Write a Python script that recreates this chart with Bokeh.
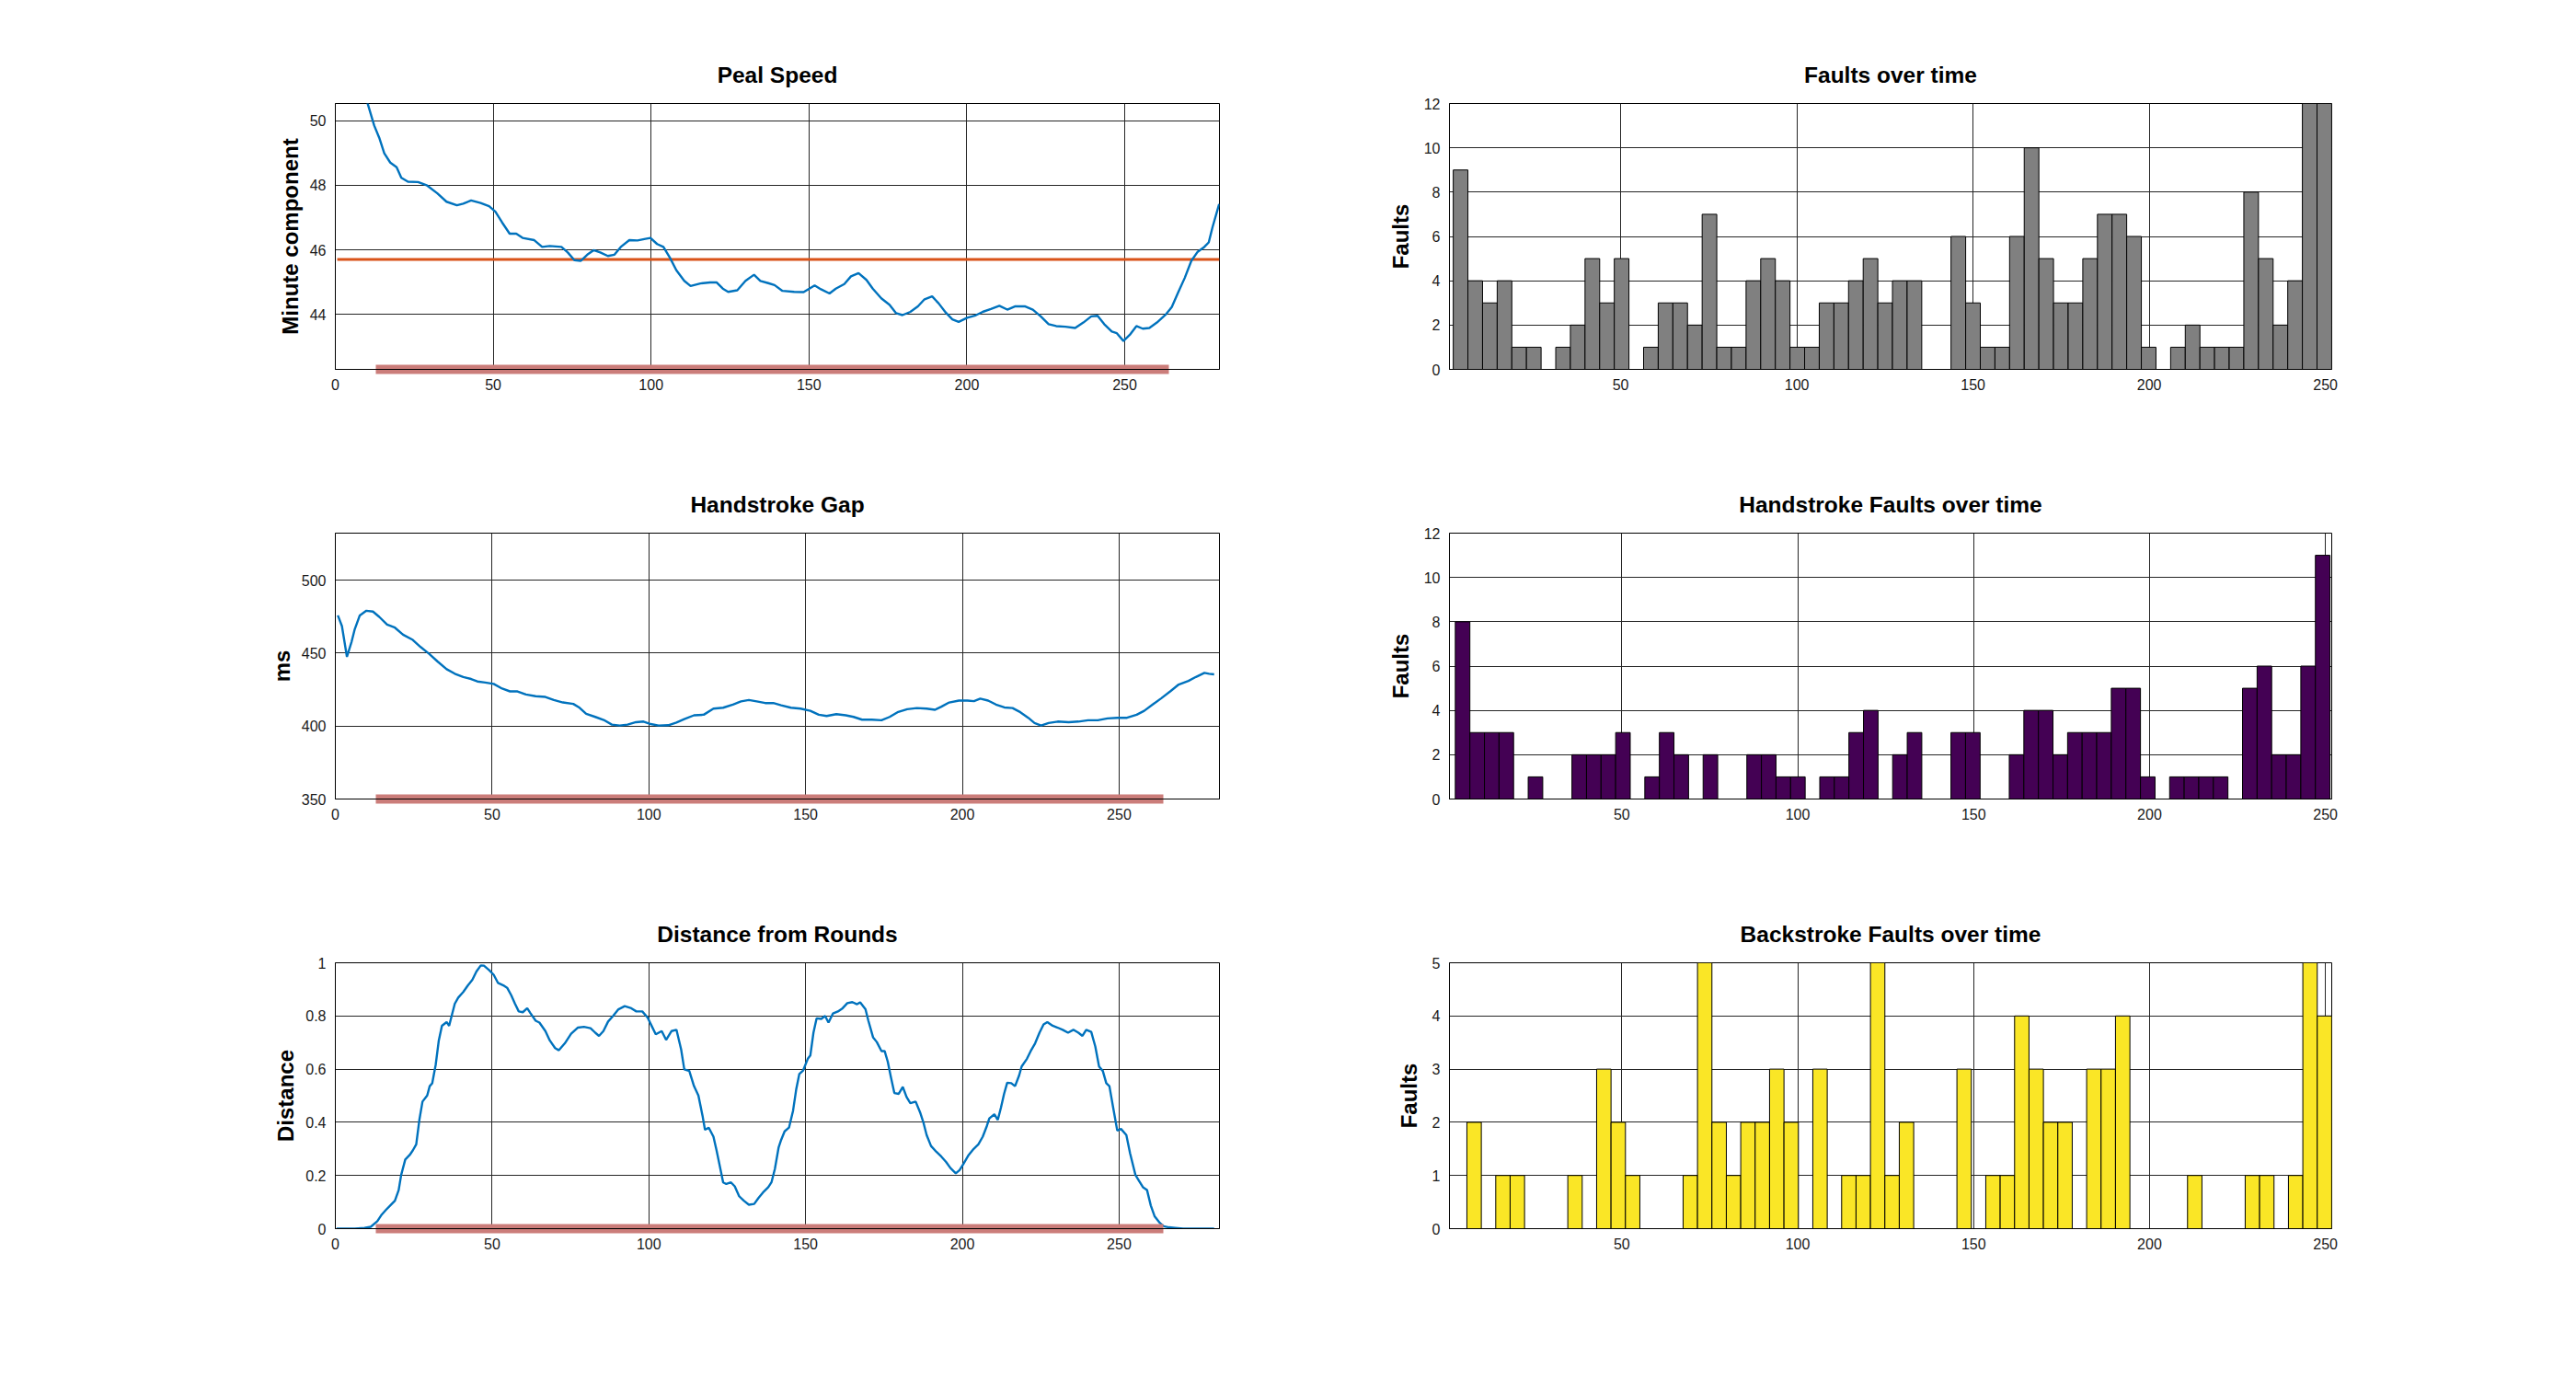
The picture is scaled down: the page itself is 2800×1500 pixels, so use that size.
from bokeh.plotting import figure
from bokeh.layouts import column, row
from bokeh.models import Range1d, LinearAxis, FixedTicker
from bokeh.embed import file_html
from bokeh.resources import INLINE

# ---------------- data ----------------
peal_x = [9.0, 10.2, 12.3, 13.9, 15.5, 17.4, 19.4, 20.9, 23.0, 26.2, 29.1, 32.3, 35.2, 38.5, 40.5,
          43.0, 46.0, 48.7, 50.7, 52.8, 55.2, 57.3, 59.3, 63.0, 65.5, 67.9, 71.6, 73.6, 75.7, 77.7,
          79.8, 81.8, 83.9, 86.3, 88.4, 90.4, 93.1, 95.7, 98.2, 99.8, 101.9, 103.9, 106.0, 108.0,
          110.5, 112.5, 115.6, 118.7, 120.8, 122.7, 124.4, 127.3, 129.9, 132.6, 134.6, 137.1, 139.1,
          141.6, 145.3, 148.3, 151.8, 153.8, 156.5, 158.5, 161.2, 163.3, 165.7, 168.2, 170.2, 172.9,
          175.5, 177.6, 179.6, 182.1, 184.5, 186.6, 189.0, 191.1, 193.3, 195.4, 197.4, 200.1, 202.5,
          205.0, 207.6, 210.3, 212.8, 215.2, 218.5, 220.9, 223.4, 225.9, 228.3, 231.2, 234.3, 236.9,
          239.4, 241.4, 243.5, 245.9, 247.5, 249.6, 251.6, 253.7, 255.7, 257.8, 260.2, 262.9, 264.9,
          267.0, 269.0, 271.1, 273.1, 275.2, 276.6, 277.8, 279.9]
peal_y = [50.9, 50.54, 49.85, 49.47, 48.99, 48.70, 48.56, 48.23, 48.11, 48.10, 47.99, 47.75, 47.49,
          47.38, 47.43, 47.53, 47.45, 47.35, 47.18, 46.85, 46.50, 46.50, 46.37, 46.30, 46.09, 46.12,
          46.09, 45.92, 45.68, 45.66, 45.85, 45.99, 45.92, 45.81, 45.85, 46.09, 46.30, 46.29, 46.34,
          46.37, 46.18, 46.09, 45.75, 45.37, 45.04, 44.88, 44.96, 44.99, 44.99, 44.80, 44.70, 44.75,
          45.04, 45.23, 45.04, 44.97, 44.91, 44.73, 44.70, 44.69, 44.90, 44.78, 44.65, 44.80, 44.94,
          45.18, 45.28, 45.07, 44.80, 44.50, 44.30, 44.04, 43.98, 44.08, 44.25, 44.47, 44.56, 44.34,
          44.06, 43.85, 43.77, 43.90, 43.96, 44.08, 44.17, 44.27, 44.15, 44.25, 44.25, 44.15, 43.94,
          43.70, 43.64, 43.62, 43.58, 43.75, 43.94, 43.96, 43.70, 43.47, 43.42, 43.18, 43.37, 43.64,
          43.56, 43.58, 43.75, 43.99, 44.23, 44.70, 45.13, 45.66, 45.94, 46.09, 46.23, 46.70, 47.42]
peal_mean = 45.7
peal_mean_x = [0.6, 280.0]

gap_x = [0.8, 2.1, 3.7, 5.2, 6.2, 7.8, 9.9, 12.0, 14.0, 16.5, 19.0, 21.6, 24.7, 27.2, 29.9, 32.6,
         35.5, 38.1, 40.8, 43.3, 45.3, 47.8, 50.5, 53.2, 55.7, 58.1, 60.8, 63.9, 67.0, 69.7, 72.6,
         75.9, 77.9, 80.0, 82.9, 85.6, 88.2, 90.7, 93.2, 95.9, 98.3, 100.6, 103.1, 106.2, 108.8,
         111.3, 114.4, 117.5, 120.6, 123.7, 126.8, 129.4, 131.9, 134.4, 137.1, 139.7, 142.2, 145.3,
         148.4, 151.5, 154.2, 156.7, 159.8, 162.8, 165.3, 168.0, 171.1, 174.2, 176.8, 179.3, 182.4,
         185.5, 188.6, 191.3, 193.3, 195.8, 198.9, 201.6, 203.7, 205.7, 208.2, 210.7, 213.4, 216.0,
         218.5, 221.0, 223.0, 225.1, 227.5, 230.4, 233.9, 237.0, 240.1, 243.2, 246.3, 249.4, 252.5,
         255.6, 258.0, 260.7, 263.4, 266.3, 269.0, 272.1, 274.5, 277.2, 278.7, 280.3]
gap_y = [475.9, 468.6, 447.5, 458.0, 466.5, 475.9, 479.1, 478.5, 474.9, 469.6, 467.5, 462.7, 459.1,
         454.2, 449.6, 444.3, 439.0, 435.9, 433.7, 432.3, 430.6, 429.9, 428.9, 425.7, 423.8, 423.8,
         421.7, 420.5, 420.0, 417.9, 416.2, 415.2, 412.6, 408.4, 406.3, 404.2, 401.0, 400.4, 401.0,
         402.7, 403.1, 401.4, 400.4, 400.6, 402.5, 404.8, 407.4, 407.8, 412.0, 412.6, 414.8, 416.9,
         417.9, 416.9, 415.8, 415.8, 414.3, 412.6, 412.0, 410.5, 407.8, 406.9, 408.2, 407.4, 406.3,
         404.4, 404.4, 404.0, 406.3, 409.5, 411.6, 412.4, 412.0, 411.2, 413.3, 416.2, 417.5, 417.5,
         417.1, 418.8, 417.5, 414.8, 412.8, 412.4, 409.5, 405.7, 402.1, 400.4, 402.1, 403.1, 402.7,
         403.1, 404.0, 404.0, 405.3, 405.7, 405.7, 407.8, 410.5, 414.8, 419.0, 423.8, 428.5, 431.0,
         433.7, 436.5, 435.9, 435.5]

dist_x = [0.4, 6.2, 9.3, 11.3, 13.4, 14.8, 16.1, 17.5, 19.0, 20.2, 21.0, 22.3, 23.7, 24.7, 25.8,
          26.8, 27.8, 29.3, 30.1, 30.9, 32.0, 33.0, 34.0, 35.5, 36.3, 37.1, 38.1, 39.2, 40.8, 42.3,
          43.7, 45.0, 46.4, 47.4, 49.1, 50.5, 51.9, 53.6, 54.8, 56.1, 57.3, 58.5, 59.8, 61.2, 62.2,
          63.9, 65.1, 67.0, 68.4, 70.1, 71.3, 73.2, 75.2, 77.3, 79.3, 81.4, 82.9, 84.1, 85.5, 87.0,
          88.6, 90.3, 92.3, 94.4, 96.0, 97.9, 99.6, 101.0, 102.2, 104.1, 105.5, 107.2, 108.8, 110.3,
          111.3, 112.9, 114.4, 115.8, 117.1, 117.9, 119.1, 120.6, 121.6, 122.6, 123.7, 124.7, 126.2,
          127.4, 128.8, 130.3, 131.9, 133.6, 135.0, 136.4, 138.1, 139.1, 140.2, 141.4, 142.2, 143.3,
          144.7, 146.0, 147.0, 148.0, 149.2, 150.7, 151.5, 152.5, 153.5, 155.0, 156.2, 157.3, 158.7,
          160.3, 161.8, 163.3, 164.9, 166.4, 167.4, 169.1, 170.0, 171.5, 172.7, 174.2, 175.2, 176.2,
          177.2, 178.3, 179.7, 181.0, 182.2, 183.4, 185.1, 186.5, 187.6, 188.6, 190.0, 191.7, 193.3,
          194.8, 196.2, 197.9, 199.1, 200.3, 202.0, 203.6, 205.1, 206.5, 207.8, 208.6, 210.2, 211.3,
          212.3, 213.3, 214.3, 215.6, 216.8, 218.1, 218.9, 220.6, 221.8, 223.2, 224.6, 225.9, 227.1,
          228.8, 230.4, 232.0, 233.7, 235.4, 237.0, 238.3, 239.5, 241.1, 242.4, 243.6, 244.8, 245.9,
          246.9, 248.1, 249.4, 250.6, 252.3, 253.5, 255.2, 256.4, 257.6, 258.9, 260.1, 261.3, 262.8,
          264.2, 265.9, 267.9, 270.4, 280.3]
dist_y = [0.0, 0.0, 0.003, 0.007, 0.028, 0.053, 0.070, 0.087, 0.105, 0.145, 0.202, 0.260, 0.277,
          0.294, 0.317, 0.409, 0.478, 0.501, 0.536, 0.547, 0.616, 0.708, 0.763, 0.777, 0.763, 0.800,
          0.846, 0.869, 0.890, 0.915, 0.936, 0.967, 0.990, 0.989, 0.972, 0.955, 0.924, 0.915, 0.906,
          0.878, 0.846, 0.817, 0.814, 0.829, 0.811, 0.782, 0.775, 0.743, 0.708, 0.679, 0.671, 0.697,
          0.733, 0.756, 0.759, 0.754, 0.737, 0.725, 0.743, 0.779, 0.800, 0.825, 0.837, 0.829, 0.817,
          0.817, 0.794, 0.760, 0.731, 0.743, 0.710, 0.743, 0.748, 0.674, 0.599, 0.593, 0.536, 0.501,
          0.426, 0.372, 0.380, 0.346, 0.294, 0.237, 0.174, 0.168, 0.174, 0.159, 0.122, 0.105, 0.090,
          0.093, 0.116, 0.136, 0.156, 0.174, 0.225, 0.306, 0.334, 0.366, 0.380, 0.444, 0.524, 0.582,
          0.595, 0.639, 0.651, 0.737, 0.791, 0.789, 0.800, 0.775, 0.809, 0.817, 0.829, 0.848, 0.852,
          0.844, 0.851, 0.825, 0.783, 0.720, 0.702, 0.668, 0.668, 0.628, 0.570, 0.510, 0.507, 0.533,
          0.495, 0.472, 0.478, 0.438, 0.398, 0.352, 0.311, 0.289, 0.271, 0.251, 0.228, 0.208, 0.220,
          0.243, 0.277, 0.300, 0.317, 0.346, 0.386, 0.415, 0.430, 0.409, 0.455, 0.507, 0.549, 0.547,
          0.536, 0.576, 0.610, 0.639, 0.668, 0.697, 0.737, 0.768, 0.777, 0.763, 0.756, 0.748, 0.737,
          0.748, 0.737, 0.725, 0.748, 0.740, 0.685, 0.610, 0.593, 0.547, 0.536, 0.455, 0.369, 0.375,
          0.352, 0.283, 0.202, 0.179, 0.156, 0.145, 0.087, 0.047, 0.024, 0.009, 0.005, 0.003, 0.0, 0.0]

rounds_span = [12.8, 264.0]   # x extent of the thick marker bar on the left-hand plots

faults = [9, 4, 3, 4, 1, 1, 0, 1, 2, 5, 3, 5, 0, 1, 3, 3, 2, 7, 1, 1,
          4, 5, 4, 1, 1, 3, 3, 4, 5, 3, 4, 4, 0, 0, 6, 3, 1, 1, 6, 10,
          5, 3, 3, 5, 7, 7, 6, 1, 0, 1, 2, 1, 1, 1, 8, 5, 2, 4, 12, 12]
faults_bin_start, faults_bin_width = 2.48, 4.155

hand_faults = [8, 3, 3, 3, 0, 1, 0, 0, 2, 2, 2, 3, 0, 1, 3, 2, 0, 2, 0, 0,
               2, 2, 1, 1, 0, 1, 1, 3, 4, 0, 2, 3, 0, 0, 3, 3, 0, 0, 2, 4,
               4, 2, 3, 3, 3, 5, 5, 1, 0, 1, 1, 1, 1, 0, 5, 6, 2, 2, 6, 11]
hand_bin_start, hand_bin_width = 2.66, 4.144

back_faults = [2, 0, 1, 1, 0, 0, 0, 1, 0, 3, 2, 1, 0, 0, 0, 1, 5, 2, 1, 2,
               2, 3, 2, 0, 3, 0, 1, 1, 5, 1, 2, 0, 0, 0, 3, 0, 1, 1, 4, 3,
               2, 2, 0, 3, 3, 4, 0, 0, 0, 0, 1, 0, 0, 0, 1, 1, 0, 1, 5, 4]
back_bin_start, back_bin_width = 5.96, 4.097

left_xticks = [0, 50, 100, 150, 200, 250]
right_xticks = [50, 100, 150, 200, 250]

# ---------------- styling helpers ----------------
FONT = "Liberation Sans"
BLUE = "#0072bd"
ORANGE = "#d95319"
PINK = "#cb7d7a"
GRID = "#262626"


def make_fig(title, ylabel, xr, yr, xticks, yticks, left_col):
    if left_col:
        w, bl, br, lab_std = 1400, 364, 75, 5
    else:
        w, bl, br, lab_std = 1384, 175, 250, 9
    p = figure(width=w, height=467, x_range=Range1d(*xr), y_range=Range1d(*yr),
               output_backend="svg", toolbar_location=None,
               min_border_left=bl, min_border_right=br, min_border_top=112, min_border_bottom=66,
               title=title)
    p.title.align = "center"
    p.title.text_font = FONT
    p.title.text_font_size = "24.5px"
    p.title.text_font_style = "bold"
    p.title.text_color = "black"
    p.title.standoff = 35
    for ax in (p.xaxis[0], p.yaxis[0]):
        ax.major_label_text_font = FONT
        ax.major_label_text_font_size = "16px"
        ax.major_label_text_color = "#1a1a1a"
        ax.major_tick_line_color = None
        ax.minor_tick_line_color = None
        ax.major_tick_in = 0
        ax.major_tick_out = 0
        ax.minor_tick_in = 0
        ax.minor_tick_out = 0
        ax.axis_line_color = "black"
        ax.axis_line_width = 1
        ax.major_label_standoff = 10
    p.xaxis.ticker = xticks
    p.yaxis.ticker = yticks
    p.yaxis.axis_label = ylabel
    p.yaxis.axis_label_text_font = FONT
    p.yaxis.axis_label_text_font_size = "24px"
    p.yaxis.axis_label_text_font_style = "bold"
    p.yaxis.axis_label_text_color = "black"
    p.yaxis.axis_label_standoff = lab_std
    for g in (p.xgrid[0], p.ygrid[0]):
        g.grid_line_color = GRID
        g.grid_line_alpha = 1
        g.grid_line_width = 1
    p.outline_line_color = "black"
    p.outline_line_alpha = 1
    p.outline_line_width = 1
    p.background_fill_color = "white"
    p.border_fill_color = "white"
    return p


def add_rounds_bar(p):
    # thick bar straddling the bottom edge of the axes, drawn as a bounded axis line
    bar = LinearAxis(ticker=FixedTicker(ticks=[]), bounds=(rounds_span[0], rounds_span[1]),
                     axis_line_color=PINK, axis_line_width=10, axis_line_cap="butt",
                     major_tick_line_color=None, minor_tick_line_color=None,
                     major_tick_in=0, major_tick_out=0, minor_tick_in=0, minor_tick_out=0,
                     major_label_text_font_size="0px", major_label_standoff=0)
    p.below = [bar] + list(p.below)


def add_hist(p, counts, start, width, color):
    lefts = [start + i * width for i in range(len(counts))]
    rights = [l + width for l in lefts]
    p.quad(left=lefts, right=rights, bottom=[0] * len(counts), top=counts,
           fill_color=color, line_color="black", line_width=1)


# ---------------- left column ----------------
p1 = make_fig("Peal Speed", "Minute component", (0, 280), (42.3, 50.53), left_xticks,
              [44, 46, 48, 50], True)
p1.line(peal_mean_x, [peal_mean, peal_mean], line_color=ORANGE, line_width=3)
p1.line(peal_x, peal_y, line_color=BLUE, line_width=2.4)
add_rounds_bar(p1)

p3 = make_fig("Handstroke Gap", "ms", (0, 282), (350, 532.3), left_xticks,
              [350, 400, 450, 500], True)
p3.line(gap_x, gap_y, line_color=BLUE, line_width=2.4)
add_rounds_bar(p3)

p5 = make_fig("Distance from Rounds", "Distance", (0, 282), (0, 1), left_xticks,
              [0, 0.2, 0.4, 0.6, 0.8, 1], True)
p5.yaxis.major_label_overrides = {0: "0", 0.2: "0.2", 0.4: "0.4", 0.6: "0.6", 0.8: "0.8", 1: "1"}
p5.line(dist_x, dist_y, line_color=BLUE, line_width=2.4)
add_rounds_bar(p5)

# ---------------- right column ----------------
p2 = make_fig("Faults over time", "Faults", (1.4, 251.8), (0, 12), right_xticks,
              [0, 2, 4, 6, 8, 10, 12], False)
add_hist(p2, faults, faults_bin_start, faults_bin_width, "#808080")

p4 = make_fig("Handstroke Faults over time", "Faults", (1.0, 251.8), (0, 12), right_xticks,
              [0, 2, 4, 6, 8, 10, 12], False)
add_hist(p4, hand_faults, hand_bin_start, hand_bin_width, "#440154")

p6 = make_fig("Backstroke Faults over time", "Faults", (1.0, 251.8), (0, 5), right_xticks,
              [0, 1, 2, 3, 4, 5], False)
add_hist(p6, back_faults, back_bin_start, back_bin_width, "#fae626")

layout = column(row(p1, p2), row(p3, p4), row(p5, p6))

open("out.html", "w").write(file_html(layout, INLINE))
